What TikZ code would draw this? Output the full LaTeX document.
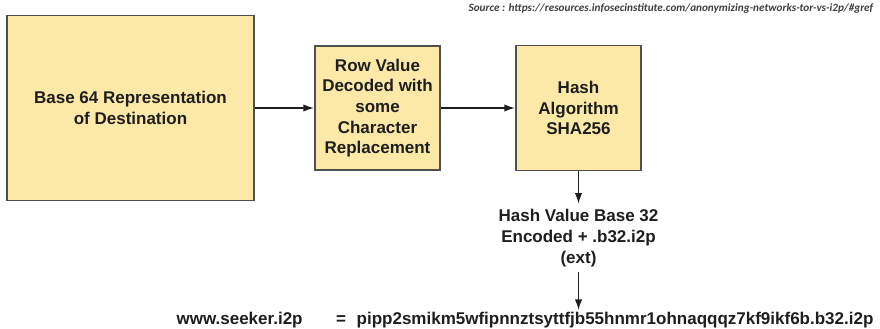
\documentclass[tikz,border=0pt]{standalone}
\usepackage{fontspec}
\usetikzlibrary{arrows.meta}
\setmainfont{Liberation Sans}
\newfontfamily\srcfont{Carlito}
\definecolor{boxfill}{HTML}{FCE9A7}
\definecolor{boxline}{HTML}{4F4F4F}
\definecolor{inktext}{HTML}{1E1E1E}

\begin{document}
\begin{tikzpicture}[x=0.75pt,y=-0.75pt,>={Latex[length=8pt,width=5.5pt]}]
        \tikzstyle{block}=[rectangle, draw=boxline, fill=boxfill, line width=1.4pt, align=center, text=inktext, font=\bfseries\fontsize{12.75}{15.5}\selectfont, inner sep=2pt]
        \tikzstyle{plain}=[align=center, text=inktext, font=\bfseries\fontsize{12.75}{15.5}\selectfont, inner sep=1pt]
        \tikzstyle{flow}=[line width=1.1pt, draw=inktext]
        \useasboundingbox (0,0) rectangle (880,328);
        \node[anchor=east, text=black!75, font=\srcfont\itshape\bfseries\fontsize{8.4}{9}\selectfont] (src) at (878,9) {Source : https://resources.infosecinstitute.com/anonymizing-networks-tor-vs-i2p/\#gref};
        \node[block, minimum width=185.25pt, minimum height=138.75pt] (A) at (130.5,108) {Base 64 Representation\\of Destination};
        \node[block, minimum width=93.75pt, minimum height=93pt] (B) at (377.5,108) {Row Value\\Decoded with\\some\\Character\\Replacement};
        \node[block, minimum width=93.75pt, minimum height=93.75pt] (C) at (578.5,108) {Hash\\Algorithm\\SHA256};
        \node[plain, inner sep=4pt] (H) at (578.5,238) {Hash Value Base 32\\Encoded + .b32.i2p\\(ext)};
        \node[plain, anchor=base west] (www) at (175,324) {www.seeker.i2p};
        \node[plain, anchor=base] (eq) at (341,324) {=};
        \node[plain, anchor=base east] (addr) at (875,324) {pipp2smikm5wfipnnztsyttfjb55hnmr1ohnaqqqz7kf9ikf6b.b32.i2p};
        \path [->] (A) edge[flow] (B);
        \path [->] (B) edge[flow] (C);
        \path [->] (C) edge[flow] (H);
        \path [->] (H) edge[flow] (H.south |- addr.north);
    \end{tikzpicture}
\end{document}
